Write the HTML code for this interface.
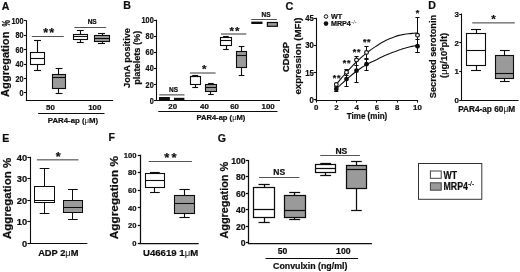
<!DOCTYPE html>
<html lang="en"><head><meta charset="utf-8"><title>Figure</title>
<style>html,body{margin:0;padding:0;background:#fff;overflow:hidden;}svg{display:block;}text{font-family:"Liberation Sans", Arial, sans-serif;stroke:#111;stroke-width:0.22px;}</style>
</head><body>
<svg width="520" height="272" viewBox="0 0 520 272">
<rect width="520" height="272" fill="#fff"/>
<defs><filter id="soft" x="0" y="0" width="520" height="272" filterUnits="userSpaceOnUse"><feGaussianBlur stdDeviation="0.4"/></filter></defs>
<g filter="url(#soft)">
<rect width="520" height="272" fill="#fff"/>
<text x="1.80" y="9.50" font-size="10.6" text-anchor="start" font-weight="bold" fill="#111">A</text>
<text x="9.50" y="96.90" font-size="11.1" text-anchor="start" font-weight="bold" fill="#111" transform="rotate(-90 9.50 96.90)">Aggregation</text>
<text font-size="11.1" font-weight="bold" fill="#111" text-anchor="start" transform="translate(9.5 26.6) rotate(-90) scale(0.66 1)">%</text>
<line x1="26.50" y1="20.30" x2="26.50" y2="100.50" stroke="#111" stroke-width="1.1"/>
<line x1="23.90" y1="92.50" x2="26.30" y2="92.50" stroke="#111" stroke-width="1.1"/>
<text x="0.00" y="0.00" font-size="8.7" text-anchor="end" font-weight="bold" fill="#111" transform="translate(23.60 96.01) scale(0.83 1)">0</text>
<line x1="23.90" y1="78.50" x2="26.30" y2="78.50" stroke="#111" stroke-width="1.1"/>
<text x="0.00" y="0.00" font-size="8.7" text-anchor="end" font-weight="bold" fill="#111" transform="translate(23.60 81.59) scale(0.83 1)">20</text>
<line x1="23.90" y1="64.50" x2="26.30" y2="64.50" stroke="#111" stroke-width="1.1"/>
<text x="0.00" y="0.00" font-size="8.7" text-anchor="end" font-weight="bold" fill="#111" transform="translate(23.60 67.17) scale(0.83 1)">40</text>
<line x1="23.90" y1="49.50" x2="26.30" y2="49.50" stroke="#111" stroke-width="1.1"/>
<text x="0.00" y="0.00" font-size="8.7" text-anchor="end" font-weight="bold" fill="#111" transform="translate(23.60 52.75) scale(0.83 1)">60</text>
<line x1="23.90" y1="35.50" x2="26.30" y2="35.50" stroke="#111" stroke-width="1.1"/>
<text x="0.00" y="0.00" font-size="8.7" text-anchor="end" font-weight="bold" fill="#111" transform="translate(23.60 38.33) scale(0.83 1)">80</text>
<line x1="23.90" y1="20.50" x2="26.30" y2="20.50" stroke="#111" stroke-width="1.1"/>
<text x="0.00" y="0.00" font-size="8.7" text-anchor="end" font-weight="bold" fill="#111" transform="translate(23.60 23.91) scale(0.83 1)">100</text>
<line x1="25.80" y1="100.50" x2="113.10" y2="100.50" stroke="#111" stroke-width="1.1"/>
<text x="50.40" y="109.90" font-size="7.9" text-anchor="middle" font-weight="bold" fill="#111">50</text>
<text x="94.80" y="109.90" font-size="7.9" text-anchor="middle" font-weight="bold" fill="#111">100</text>
<line x1="38.10" y1="113.50" x2="104.50" y2="113.50" stroke="#111" stroke-width="1.1"/>
<text x="73.00" y="123.00" font-size="7.8" text-anchor="middle" font-weight="bold" fill="#111">PAR4-ap (<tspan font-weight="normal" stroke="none">μ</tspan>M)</text>
<line x1="37.50" y1="40.10" x2="37.50" y2="52.50" stroke="#111" stroke-width="1.1"/>
<line x1="37.50" y1="64.50" x2="37.50" y2="70.90" stroke="#111" stroke-width="1.1"/>
<line x1="34.00" y1="40.50" x2="41.00" y2="40.50" stroke="#111" stroke-width="1.1"/>
<line x1="34.00" y1="70.50" x2="41.00" y2="70.50" stroke="#111" stroke-width="1.1"/>
<rect x="30.50" y="52.50" width="14.00" height="12.00" fill="#fff" stroke="#111" stroke-width="1.1"/>
<line x1="30.50" y1="58.50" x2="44.50" y2="58.50" stroke="#111" stroke-width="1.1"/>
<line x1="58.50" y1="68.40" x2="58.50" y2="74.50" stroke="#111" stroke-width="1.1"/>
<line x1="58.50" y1="88.50" x2="58.50" y2="93.00" stroke="#111" stroke-width="1.1"/>
<line x1="55.60" y1="68.50" x2="62.50" y2="68.50" stroke="#111" stroke-width="1.1"/>
<line x1="55.60" y1="93.50" x2="62.50" y2="93.50" stroke="#111" stroke-width="1.1"/>
<rect x="52.50" y="74.50" width="13.00" height="14.00" fill="#9a9a9a" stroke="#111" stroke-width="1.1"/>
<line x1="52.50" y1="77.50" x2="65.50" y2="77.50" stroke="#111" stroke-width="1.1"/>
<line x1="80.50" y1="30.60" x2="80.50" y2="34.50" stroke="#111" stroke-width="1.1"/>
<line x1="80.50" y1="39.50" x2="80.50" y2="42.75" stroke="#111" stroke-width="1.1"/>
<line x1="76.90" y1="30.50" x2="83.75" y2="30.50" stroke="#111" stroke-width="1.1"/>
<line x1="76.90" y1="42.50" x2="83.75" y2="42.50" stroke="#111" stroke-width="1.1"/>
<rect x="73.50" y="34.50" width="14.00" height="5.00" fill="#fff" stroke="#111" stroke-width="1.1"/>
<line x1="73.50" y1="36.50" x2="87.50" y2="36.50" stroke="#111" stroke-width="1.1"/>
<line x1="102.50" y1="33.75" x2="102.50" y2="35.50" stroke="#111" stroke-width="1.1"/>
<line x1="102.50" y1="41.50" x2="102.50" y2="43.60" stroke="#111" stroke-width="1.1"/>
<line x1="98.00" y1="33.50" x2="105.00" y2="33.50" stroke="#111" stroke-width="1.1"/>
<line x1="98.00" y1="43.50" x2="105.00" y2="43.50" stroke="#111" stroke-width="1.1"/>
<rect x="94.50" y="35.50" width="15.00" height="6.00" fill="#9a9a9a" stroke="#111" stroke-width="1.1"/>
<line x1="94.50" y1="38.50" x2="109.50" y2="38.50" stroke="#111" stroke-width="1.1"/>
<line x1="31.90" y1="36.50" x2="63.75" y2="36.50" stroke="#555" stroke-width="1"/>
<text x="49.35" y="37.15" font-size="12.5" text-anchor="middle" font-weight="bold" fill="#111" letter-spacing="1.2">**</text>
<line x1="74.40" y1="27.50" x2="106.25" y2="27.50" stroke="#555" stroke-width="1"/>
<text x="92.20" y="24.00" font-size="6.5" text-anchor="middle" font-weight="bold" fill="#111">NS</text>
<text x="123.20" y="9.00" font-size="10.6" text-anchor="start" font-weight="bold" fill="#111">B</text>
<text x="129.70" y="58.00" font-size="9.2" text-anchor="middle" font-weight="bold" fill="#111" transform="rotate(-90 129.70 58.00)">JonA positive</text>
<text x="139.80" y="57.75" font-size="9.2" text-anchor="middle" font-weight="bold" fill="#111" transform="rotate(-90 139.80 57.75)">platelets (%)</text>
<line x1="156.50" y1="19.70" x2="156.50" y2="101.00" stroke="#111" stroke-width="1.1"/>
<line x1="154.00" y1="100.50" x2="156.40" y2="100.50" stroke="#111" stroke-width="1.1"/>
<text x="0.00" y="0.00" font-size="8.3" text-anchor="end" font-weight="bold" fill="#111" transform="translate(153.70 103.67) scale(0.88 1)">0</text>
<line x1="154.00" y1="84.50" x2="156.40" y2="84.50" stroke="#111" stroke-width="1.1"/>
<text x="0.00" y="0.00" font-size="8.3" text-anchor="end" font-weight="bold" fill="#111" transform="translate(153.70 87.57) scale(0.88 1)">20</text>
<line x1="154.00" y1="68.50" x2="156.40" y2="68.50" stroke="#111" stroke-width="1.1"/>
<text x="0.00" y="0.00" font-size="8.3" text-anchor="end" font-weight="bold" fill="#111" transform="translate(153.70 71.47) scale(0.88 1)">40</text>
<line x1="154.00" y1="52.50" x2="156.40" y2="52.50" stroke="#111" stroke-width="1.1"/>
<text x="0.00" y="0.00" font-size="8.3" text-anchor="end" font-weight="bold" fill="#111" transform="translate(153.70 55.37) scale(0.88 1)">60</text>
<line x1="154.00" y1="36.50" x2="156.40" y2="36.50" stroke="#111" stroke-width="1.1"/>
<text x="0.00" y="0.00" font-size="8.3" text-anchor="end" font-weight="bold" fill="#111" transform="translate(153.70 39.27) scale(0.88 1)">80</text>
<line x1="154.00" y1="20.50" x2="156.40" y2="20.50" stroke="#111" stroke-width="1.1"/>
<text x="0.00" y="0.00" font-size="8.3" text-anchor="end" font-weight="bold" fill="#111" transform="translate(153.70 23.17) scale(0.88 1)">100</text>
<line x1="155.90" y1="100.50" x2="280.00" y2="100.50" stroke="#111" stroke-width="1.1"/>
<text x="172.70" y="109.10" font-size="7.9" text-anchor="middle" font-weight="bold" fill="#111">20</text>
<text x="204.40" y="109.10" font-size="7.9" text-anchor="middle" font-weight="bold" fill="#111">40</text>
<text x="234.60" y="109.10" font-size="7.9" text-anchor="middle" font-weight="bold" fill="#111">60</text>
<text x="268.10" y="109.20" font-size="7.9" text-anchor="middle" font-weight="bold" fill="#111">100</text>
<line x1="158.25" y1="111.50" x2="277.50" y2="111.50" stroke="#111" stroke-width="1.1"/>
<text x="220.90" y="120.10" font-size="7.6" text-anchor="middle" font-weight="bold" fill="#111">PAR4-ap (<tspan font-weight="normal" stroke="none">μ</tspan>M)</text>
<rect x="159" y="97" width="10.9" height="3" fill="#111"/>
<rect x="174" y="97.8" width="10.4" height="2.2" fill="#111"/>
<line x1="159.25" y1="94.90" x2="184.50" y2="94.90" stroke="#222" stroke-width="0.9"/>
<text x="173.50" y="92.40" font-size="6.5" text-anchor="middle" font-weight="bold" fill="#111">NS</text>
<line x1="195.50" y1="75.20" x2="195.50" y2="76.50" stroke="#111" stroke-width="1.1"/>
<line x1="195.50" y1="84.50" x2="195.50" y2="87.40" stroke="#111" stroke-width="1.1"/>
<line x1="192.25" y1="75.50" x2="198.10" y2="75.50" stroke="#111" stroke-width="1.1"/>
<line x1="192.25" y1="87.50" x2="198.10" y2="87.50" stroke="#111" stroke-width="1.1"/>
<rect x="190.50" y="76.50" width="10.00" height="8.00" fill="#fff" stroke="#111" stroke-width="1.1"/>
<line x1="190.50" y1="76.50" x2="200.50" y2="76.50" stroke="#111" stroke-width="1.1"/>
<line x1="210.50" y1="83.00" x2="210.50" y2="84.50" stroke="#111" stroke-width="1.1"/>
<line x1="210.50" y1="91.50" x2="210.50" y2="94.75" stroke="#111" stroke-width="1.1"/>
<line x1="208.10" y1="83.50" x2="213.75" y2="83.50" stroke="#111" stroke-width="1.1"/>
<line x1="208.10" y1="94.50" x2="213.75" y2="94.50" stroke="#111" stroke-width="1.1"/>
<rect x="205.50" y="84.50" width="11.00" height="7.00" fill="#9a9a9a" stroke="#111" stroke-width="1.1"/>
<line x1="205.50" y1="87.50" x2="216.50" y2="87.50" stroke="#111" stroke-width="1.1"/>
<line x1="190.00" y1="73.00" x2="215.60" y2="73.00" stroke="#222" stroke-width="0.9"/>
<text x="204.20" y="73.25" font-size="11.5" text-anchor="middle" font-weight="bold" fill="#111">*</text>
<line x1="226.50" y1="36.10" x2="226.50" y2="37.50" stroke="#111" stroke-width="1.1"/>
<line x1="226.50" y1="45.50" x2="226.50" y2="49.75" stroke="#111" stroke-width="1.1"/>
<line x1="223.10" y1="36.50" x2="228.75" y2="36.50" stroke="#111" stroke-width="1.1"/>
<line x1="223.10" y1="49.50" x2="228.75" y2="49.50" stroke="#111" stroke-width="1.1"/>
<rect x="220.50" y="37.50" width="11.00" height="8.00" fill="#fff" stroke="#111" stroke-width="1.1"/>
<line x1="220.50" y1="40.50" x2="231.50" y2="40.50" stroke="#111" stroke-width="1.1"/>
<line x1="241.50" y1="46.40" x2="241.50" y2="51.50" stroke="#111" stroke-width="1.1"/>
<line x1="241.50" y1="67.50" x2="241.50" y2="75.50" stroke="#111" stroke-width="1.1"/>
<line x1="238.75" y1="46.50" x2="244.40" y2="46.50" stroke="#111" stroke-width="1.1"/>
<line x1="238.75" y1="75.50" x2="244.40" y2="75.50" stroke="#111" stroke-width="1.1"/>
<rect x="236.50" y="51.50" width="10.00" height="16.00" fill="#9a9a9a" stroke="#111" stroke-width="1.1"/>
<line x1="236.50" y1="55.50" x2="246.50" y2="55.50" stroke="#111" stroke-width="1.1"/>
<line x1="221.00" y1="34.00" x2="246.25" y2="34.00" stroke="#222" stroke-width="0.9"/>
<text x="235.10" y="34.75" font-size="11.5" text-anchor="middle" font-weight="bold" fill="#111" letter-spacing="1.2">**</text>
<rect x="251.25" y="21.6" width="11.25" height="2.4" fill="#111"/>
<rect x="267.4" y="22.5" width="10" height="3.8" fill="#9a9a9a" stroke="#111" stroke-width="1.2"/>
<line x1="251.25" y1="19.50" x2="276.90" y2="19.50" stroke="#555" stroke-width="1"/>
<text x="266.00" y="17.00" font-size="6.5" text-anchor="middle" font-weight="bold" fill="#111">NS</text>
<text x="285.60" y="9.60" font-size="10.799999999999999" text-anchor="start" font-weight="bold" fill="#111">C</text>
<text x="289.50" y="56.90" font-size="9.3" text-anchor="middle" font-weight="bold" fill="#111" transform="rotate(-90 289.50 56.90)">CD62P</text>
<text x="300.75" y="56.10" font-size="9.7" text-anchor="middle" font-weight="bold" fill="#111" transform="rotate(-90 300.75 56.10)">expression (MFI)</text>
<line x1="316.50" y1="17.80" x2="316.50" y2="100.60" stroke="#111" stroke-width="1.1"/>
<line x1="313.60" y1="99.50" x2="316.00" y2="99.50" stroke="#111" stroke-width="1.1"/>
<text x="0.00" y="0.00" font-size="8.4" text-anchor="end" font-weight="bold" fill="#111" transform="translate(313.90 102.71) scale(0.92 1)">0</text>
<line x1="313.60" y1="72.50" x2="316.00" y2="72.50" stroke="#111" stroke-width="1.1"/>
<text x="0.00" y="0.00" font-size="8.4" text-anchor="end" font-weight="bold" fill="#111" transform="translate(313.90 75.57) scale(0.92 1)">15</text>
<line x1="313.60" y1="45.50" x2="316.00" y2="45.50" stroke="#111" stroke-width="1.1"/>
<text x="0.00" y="0.00" font-size="8.4" text-anchor="end" font-weight="bold" fill="#111" transform="translate(313.90 48.44) scale(0.92 1)">30</text>
<line x1="313.60" y1="18.50" x2="316.00" y2="18.50" stroke="#111" stroke-width="1.1"/>
<text x="0.00" y="0.00" font-size="8.4" text-anchor="end" font-weight="bold" fill="#111" transform="translate(313.90 21.30) scale(0.92 1)">45</text>
<line x1="315.50" y1="100.50" x2="417.90" y2="100.50" stroke="#111" stroke-width="1.1"/>
<line x1="316.50" y1="100.00" x2="316.50" y2="102.60" stroke="#111" stroke-width="1.1"/>
<text x="316.10" y="109.70" font-size="7.9" text-anchor="middle" font-weight="bold" fill="#111">0</text>
<line x1="336.50" y1="100.00" x2="336.50" y2="102.60" stroke="#111" stroke-width="1.1"/>
<text x="336.36" y="109.70" font-size="7.9" text-anchor="middle" font-weight="bold" fill="#111">2</text>
<line x1="356.50" y1="100.00" x2="356.50" y2="102.60" stroke="#111" stroke-width="1.1"/>
<text x="356.62" y="109.70" font-size="7.9" text-anchor="middle" font-weight="bold" fill="#111">4</text>
<line x1="376.50" y1="100.00" x2="376.50" y2="102.60" stroke="#111" stroke-width="1.1"/>
<text x="376.88" y="109.70" font-size="7.9" text-anchor="middle" font-weight="bold" fill="#111">6</text>
<line x1="397.50" y1="100.00" x2="397.50" y2="102.60" stroke="#111" stroke-width="1.1"/>
<text x="397.14" y="109.70" font-size="7.9" text-anchor="middle" font-weight="bold" fill="#111">8</text>
<line x1="417.50" y1="100.00" x2="417.50" y2="102.60" stroke="#111" stroke-width="1.1"/>
<text x="417.40" y="109.70" font-size="7.9" text-anchor="middle" font-weight="bold" fill="#111">10</text>
<text x="0.00" y="0.00" font-size="8.7" text-anchor="middle" font-weight="bold" fill="#111" transform="translate(367.00 118.90) scale(0.925 1)">Time (min)</text>
<circle cx="326" cy="16.5" r="1.8" fill="#fff" stroke="#111" stroke-width="1"/>
<text x="330.90" y="19.00" font-size="7.2" text-anchor="start" font-weight="bold" fill="#111">WT</text>
<circle cx="326" cy="23.6" r="2.3" fill="#111"/>
<text x="330.90" y="26.10" font-size="7.2" text-anchor="start" font-weight="bold" fill="#111">MRP4<tspan font-size="5.6" dx="0.4" dy="-2.6" font-weight="normal" stroke="none" fill="#333">-/-</tspan></text>
<path d="M336.3,84.5 L338.1,82.2 L340.0,79.9 L341.8,77.7 L343.7,75.5 L345.5,73.4 L347.4,71.3 L349.2,69.3 L351.1,67.3 L352.9,65.4 L354.8,63.5 L356.6,61.7 L358.4,60.0 L360.3,58.3 L362.1,56.6 L364.0,55.1 L365.8,53.5 L367.7,52.1 L369.5,50.7 L371.4,49.4 L373.2,48.1 L375.1,46.9 L376.9,45.7 L378.7,44.5 L380.6,43.3 L382.4,42.2 L384.3,41.2 L386.1,40.2 L388.0,39.4 L389.8,38.6 L391.7,37.9 L393.5,37.2 L395.4,36.5 L397.2,35.9 L399.0,35.4 L400.9,35.0 L402.7,34.6 L404.6,34.3 L406.4,34.0 L408.3,33.8 L410.1,33.6 L412.0,33.4 L413.8,33.2 L415.7,33.1 L417.5,33.0" fill="none" stroke="#111" stroke-width="1.1"/>
<path d="M336.3,88.9 L338.1,87.1 L340.0,85.4 L341.8,83.7 L343.7,82.0 L345.5,80.4 L347.4,78.7 L349.2,77.1 L351.1,75.5 L352.9,74.0 L354.8,72.5 L356.6,71.1 L358.4,69.8 L360.3,68.5 L362.1,67.3 L364.0,66.1 L365.8,65.0 L367.7,64.0 L369.5,63.0 L371.4,62.1 L373.2,61.3 L375.1,60.4 L376.9,59.5 L378.7,58.5 L380.6,57.6 L382.4,56.7 L384.3,55.8 L386.1,55.0 L388.0,54.2 L389.8,53.5 L391.7,52.7 L393.5,52.0 L395.4,51.4 L397.2,50.7 L399.0,50.1 L400.9,49.5 L402.7,48.8 L404.6,48.3 L406.4,47.7 L408.3,47.2 L410.1,46.8 L412.0,46.4 L413.8,46.0 L415.7,45.6 L417.5,45.3" fill="none" stroke="#111" stroke-width="1.1"/>
<line x1="346.50" y1="69.50" x2="346.50" y2="75.00" stroke="#111" stroke-width="1"/>
<line x1="344.40" y1="69.50" x2="348.60" y2="69.50" stroke="#111" stroke-width="1"/>
<line x1="344.40" y1="75.50" x2="348.60" y2="75.50" stroke="#111" stroke-width="1"/>
<line x1="356.50" y1="56.90" x2="356.50" y2="65.60" stroke="#111" stroke-width="1"/>
<line x1="354.40" y1="56.50" x2="358.60" y2="56.50" stroke="#111" stroke-width="1"/>
<line x1="354.40" y1="65.50" x2="358.60" y2="65.50" stroke="#111" stroke-width="1"/>
<line x1="366.50" y1="46.90" x2="366.50" y2="59.40" stroke="#111" stroke-width="1"/>
<line x1="364.40" y1="46.50" x2="368.60" y2="46.50" stroke="#111" stroke-width="1"/>
<line x1="364.40" y1="59.50" x2="368.60" y2="59.50" stroke="#111" stroke-width="1"/>
<line x1="417.50" y1="17.50" x2="417.50" y2="52.50" stroke="#111" stroke-width="1"/>
<line x1="415.40" y1="17.50" x2="419.60" y2="17.50" stroke="#111" stroke-width="1"/>
<line x1="415.40" y1="52.50" x2="419.60" y2="52.50" stroke="#111" stroke-width="1"/>
<line x1="336.50" y1="86.50" x2="336.50" y2="91.40" stroke="#111" stroke-width="1"/>
<line x1="334.20" y1="86.50" x2="338.40" y2="86.50" stroke="#111" stroke-width="1"/>
<line x1="334.20" y1="91.50" x2="338.40" y2="91.50" stroke="#111" stroke-width="1"/>
<line x1="346.50" y1="73.00" x2="346.50" y2="86.40" stroke="#111" stroke-width="1"/>
<line x1="344.40" y1="73.50" x2="348.60" y2="73.50" stroke="#111" stroke-width="1"/>
<line x1="344.40" y1="86.50" x2="348.60" y2="86.50" stroke="#111" stroke-width="1"/>
<line x1="356.50" y1="60.00" x2="356.50" y2="82.25" stroke="#111" stroke-width="1"/>
<line x1="354.40" y1="60.50" x2="358.60" y2="60.50" stroke="#111" stroke-width="1"/>
<line x1="354.40" y1="82.50" x2="358.60" y2="82.50" stroke="#111" stroke-width="1"/>
<line x1="366.50" y1="58.50" x2="366.50" y2="70.80" stroke="#111" stroke-width="1"/>
<line x1="364.40" y1="58.50" x2="368.60" y2="58.50" stroke="#111" stroke-width="1"/>
<line x1="364.40" y1="70.50" x2="368.60" y2="70.50" stroke="#111" stroke-width="1"/>
<line x1="417.50" y1="39.00" x2="417.50" y2="52.25" stroke="#111" stroke-width="1"/>
<line x1="415.40" y1="39.50" x2="419.60" y2="39.50" stroke="#111" stroke-width="1"/>
<line x1="415.40" y1="52.50" x2="419.60" y2="52.50" stroke="#111" stroke-width="1"/>
<circle cx="336.3" cy="84.5" r="1.9" fill="#fff" stroke="#111" stroke-width="1.1"/>
<circle cx="346.5" cy="72.25" r="1.9" fill="#fff" stroke="#111" stroke-width="1.1"/>
<circle cx="356.5" cy="60" r="1.9" fill="#fff" stroke="#111" stroke-width="1.1"/>
<circle cx="366.5" cy="52.5" r="1.9" fill="#fff" stroke="#111" stroke-width="1.1"/>
<circle cx="417.5" cy="35.25" r="1.9" fill="#fff" stroke="#111" stroke-width="1.1"/>
<circle cx="336.3" cy="88.9" r="2.4" fill="#111"/>
<circle cx="346.5" cy="79.1" r="2.4" fill="#111"/>
<circle cx="356.5" cy="70.7" r="2.4" fill="#111"/>
<circle cx="366.5" cy="64.2" r="2.4" fill="#111"/>
<circle cx="417.5" cy="46.25" r="2.4" fill="#111"/>
<text x="336.90" y="80.50" font-size="9" text-anchor="middle" font-weight="bold" fill="#111" letter-spacing="0.6">**</text>
<text x="346.90" y="65.75" font-size="9" text-anchor="middle" font-weight="bold" fill="#111" letter-spacing="0.6">**</text>
<text x="356.90" y="54.50" font-size="9" text-anchor="middle" font-weight="bold" fill="#111" letter-spacing="0.6">**</text>
<text x="367.00" y="45.00" font-size="9" text-anchor="middle" font-weight="bold" fill="#111" letter-spacing="0.6">**</text>
<text x="417.50" y="15.70" font-size="9" text-anchor="middle" font-weight="bold" fill="#111">*</text>
<text x="428.30" y="9.00" font-size="10.6" text-anchor="start" font-weight="bold" fill="#111">D</text>
<text x="435.50" y="56.50" font-size="9.2" text-anchor="middle" font-weight="bold" fill="#111" transform="rotate(-90 435.50 56.50)">Secreted serotonin</text>
<text x="447.00" y="55.40" font-size="9.4" text-anchor="middle" font-weight="bold" fill="#111" transform="rotate(-90 447.00 55.40)">(<tspan font-weight="normal" stroke="none">μ</tspan>g/10<tspan font-size="5.8" dy="-3.2">9</tspan><tspan dy="3.2">plt)</tspan></text>
<line x1="461.50" y1="13.50" x2="461.50" y2="100.80" stroke="#111" stroke-width="1.1"/>
<line x1="459.20" y1="100.50" x2="461.60" y2="100.50" stroke="#111" stroke-width="1.1"/>
<text x="458.90" y="103.08" font-size="7.9" text-anchor="end" font-weight="bold" fill="#111">0</text>
<line x1="459.20" y1="71.50" x2="461.60" y2="71.50" stroke="#111" stroke-width="1.1"/>
<text x="458.90" y="74.33" font-size="7.9" text-anchor="end" font-weight="bold" fill="#111">1</text>
<line x1="459.20" y1="42.50" x2="461.60" y2="42.50" stroke="#111" stroke-width="1.1"/>
<text x="458.90" y="45.58" font-size="7.9" text-anchor="end" font-weight="bold" fill="#111">2</text>
<line x1="459.20" y1="14.50" x2="461.60" y2="14.50" stroke="#111" stroke-width="1.1"/>
<text x="458.90" y="16.83" font-size="7.9" text-anchor="end" font-weight="bold" fill="#111">3</text>
<line x1="461.10" y1="100.50" x2="518.60" y2="100.50" stroke="#111" stroke-width="1.1"/>
<text x="486.60" y="112.00" font-size="8.25" text-anchor="middle" font-weight="bold" fill="#111">PAR4-ap 60<tspan font-weight="normal" stroke="none">μ</tspan>M</text>
<line x1="476.50" y1="29.40" x2="476.50" y2="33.50" stroke="#111" stroke-width="1.1"/>
<line x1="476.50" y1="65.50" x2="476.50" y2="70.25" stroke="#111" stroke-width="1.1"/>
<line x1="471.00" y1="29.50" x2="481.00" y2="29.50" stroke="#111" stroke-width="1.1"/>
<line x1="471.00" y1="70.50" x2="481.00" y2="70.50" stroke="#111" stroke-width="1.1"/>
<rect x="466.50" y="33.50" width="19.00" height="32.00" fill="#fff" stroke="#111" stroke-width="1.1"/>
<line x1="466.50" y1="50.50" x2="485.50" y2="50.50" stroke="#111" stroke-width="1.1"/>
<line x1="504.50" y1="50.50" x2="504.50" y2="55.50" stroke="#111" stroke-width="1.1"/>
<line x1="504.50" y1="78.50" x2="504.50" y2="81.60" stroke="#111" stroke-width="1.1"/>
<line x1="500.00" y1="50.50" x2="509.75" y2="50.50" stroke="#111" stroke-width="1.1"/>
<line x1="500.00" y1="81.50" x2="509.75" y2="81.50" stroke="#111" stroke-width="1.1"/>
<rect x="495.50" y="55.50" width="18.00" height="23.00" fill="#9a9a9a" stroke="#111" stroke-width="1.1"/>
<line x1="495.50" y1="73.50" x2="513.50" y2="73.50" stroke="#111" stroke-width="1.1"/>
<line x1="472.25" y1="22.90" x2="514.75" y2="22.90" stroke="#222" stroke-width="0.9"/>
<text x="493.60" y="23.25" font-size="11.5" text-anchor="middle" font-weight="bold" fill="#111">*</text>
<text x="2.20" y="141.50" font-size="10.6" text-anchor="start" font-weight="bold" fill="#111">E</text>
<text x="10.70" y="198.40" font-size="11.5" text-anchor="middle" font-weight="bold" fill="#111" transform="rotate(-90 10.70 198.40)">Aggregation %</text>
<line x1="30.50" y1="156.70" x2="30.50" y2="244.00" stroke="#111" stroke-width="1.1"/>
<line x1="27.40" y1="243.50" x2="30.10" y2="243.50" stroke="#111" stroke-width="1.1"/>
<text x="27.10" y="246.73" font-size="9.3" text-anchor="end" font-weight="bold" fill="#111">0</text>
<line x1="27.40" y1="221.50" x2="30.10" y2="221.50" stroke="#111" stroke-width="1.1"/>
<text x="27.10" y="225.18" font-size="9.3" text-anchor="end" font-weight="bold" fill="#111">10</text>
<line x1="27.40" y1="200.50" x2="30.10" y2="200.50" stroke="#111" stroke-width="1.1"/>
<text x="27.10" y="203.63" font-size="9.3" text-anchor="end" font-weight="bold" fill="#111">20</text>
<line x1="27.40" y1="178.50" x2="30.10" y2="178.50" stroke="#111" stroke-width="1.1"/>
<text x="27.10" y="182.08" font-size="9.3" text-anchor="end" font-weight="bold" fill="#111">30</text>
<line x1="27.40" y1="157.50" x2="30.10" y2="157.50" stroke="#111" stroke-width="1.1"/>
<text x="27.10" y="160.53" font-size="9.3" text-anchor="end" font-weight="bold" fill="#111">40</text>
<line x1="29.50" y1="243.50" x2="87.40" y2="243.50" stroke="#111" stroke-width="1.1"/>
<text x="58.30" y="255.70" font-size="9.3" text-anchor="middle" font-weight="bold" fill="#111">ADP 2<tspan font-weight="normal" stroke="none">μ</tspan>M</text>
<line x1="44.50" y1="168.00" x2="44.50" y2="186.50" stroke="#111" stroke-width="1.0"/>
<line x1="44.50" y1="202.50" x2="44.50" y2="213.20" stroke="#111" stroke-width="1.0"/>
<line x1="39.70" y1="168.50" x2="49.40" y2="168.50" stroke="#111" stroke-width="1.0"/>
<line x1="39.70" y1="213.50" x2="49.40" y2="213.50" stroke="#111" stroke-width="1.0"/>
<rect x="34.50" y="186.50" width="20.00" height="16.00" fill="#fff" stroke="#111" stroke-width="1.0"/>
<line x1="34.50" y1="200.50" x2="54.50" y2="200.50" stroke="#111" stroke-width="1.0"/>
<line x1="72.50" y1="189.25" x2="72.50" y2="200.50" stroke="#111" stroke-width="1.0"/>
<line x1="72.50" y1="212.50" x2="72.50" y2="219.60" stroke="#111" stroke-width="1.0"/>
<line x1="68.10" y1="189.50" x2="77.75" y2="189.50" stroke="#111" stroke-width="1.0"/>
<line x1="68.10" y1="219.50" x2="77.75" y2="219.50" stroke="#111" stroke-width="1.0"/>
<rect x="63.50" y="200.50" width="19.00" height="12.00" fill="#9a9a9a" stroke="#111" stroke-width="1.0"/>
<line x1="63.50" y1="207.50" x2="82.50" y2="207.50" stroke="#111" stroke-width="1.0"/>
<line x1="36.90" y1="159.85" x2="78.50" y2="159.85" stroke="#222" stroke-width="0.9"/>
<text x="58.30" y="160.55" font-size="12.5" text-anchor="middle" font-weight="bold" fill="#111">*</text>
<text x="108.50" y="141.30" font-size="10.6" text-anchor="start" font-weight="bold" fill="#111">F</text>
<text x="117.60" y="197.55" font-size="11.8" text-anchor="middle" font-weight="bold" fill="#111" transform="rotate(-90 117.60 197.55)">Aggregation %</text>
<line x1="140.50" y1="154.65" x2="140.50" y2="243.80" stroke="#111" stroke-width="1.25"/>
<line x1="137.80" y1="243.50" x2="140.20" y2="243.50" stroke="#111" stroke-width="1.25"/>
<text x="136.40" y="245.92" font-size="7.6" text-anchor="end" font-weight="bold" fill="#111">0</text>
<line x1="137.80" y1="225.50" x2="140.20" y2="225.50" stroke="#111" stroke-width="1.25"/>
<text x="136.40" y="228.31" font-size="7.6" text-anchor="end" font-weight="bold" fill="#111">20</text>
<line x1="137.80" y1="207.50" x2="140.20" y2="207.50" stroke="#111" stroke-width="1.25"/>
<text x="136.40" y="210.70" font-size="7.6" text-anchor="end" font-weight="bold" fill="#111">40</text>
<line x1="137.80" y1="190.50" x2="140.20" y2="190.50" stroke="#111" stroke-width="1.25"/>
<text x="136.40" y="193.09" font-size="7.6" text-anchor="end" font-weight="bold" fill="#111">60</text>
<line x1="137.80" y1="172.50" x2="140.20" y2="172.50" stroke="#111" stroke-width="1.25"/>
<text x="136.40" y="175.48" font-size="7.6" text-anchor="end" font-weight="bold" fill="#111">80</text>
<line x1="137.80" y1="155.50" x2="140.20" y2="155.50" stroke="#111" stroke-width="1.25"/>
<text x="136.40" y="157.87" font-size="7.6" text-anchor="end" font-weight="bold" fill="#111">100</text>
<line x1="139.60" y1="243.50" x2="198.75" y2="243.50" stroke="#111" stroke-width="1.25"/>
<text x="170.60" y="255.50" font-size="9.6" text-anchor="middle" font-weight="bold" fill="#111">U46619 1<tspan font-weight="normal" stroke="none">μ</tspan>M</text>
<line x1="154.50" y1="172.80" x2="154.50" y2="173.50" stroke="#111" stroke-width="1.1"/>
<line x1="154.50" y1="187.50" x2="154.50" y2="192.00" stroke="#111" stroke-width="1.1"/>
<line x1="150.00" y1="172.50" x2="159.75" y2="172.50" stroke="#111" stroke-width="1.1"/>
<line x1="150.00" y1="192.50" x2="159.75" y2="192.50" stroke="#111" stroke-width="1.1"/>
<rect x="145.50" y="173.50" width="19.00" height="14.00" fill="#fff" stroke="#111" stroke-width="1.1"/>
<line x1="145.50" y1="180.50" x2="164.50" y2="180.50" stroke="#111" stroke-width="1.1"/>
<line x1="184.50" y1="189.90" x2="184.50" y2="195.50" stroke="#111" stroke-width="1.1"/>
<line x1="184.50" y1="213.50" x2="184.50" y2="217.50" stroke="#111" stroke-width="1.1"/>
<line x1="179.40" y1="189.50" x2="189.75" y2="189.50" stroke="#111" stroke-width="1.1"/>
<line x1="179.40" y1="217.50" x2="189.75" y2="217.50" stroke="#111" stroke-width="1.1"/>
<rect x="174.50" y="195.50" width="20.00" height="18.00" fill="#9a9a9a" stroke="#111" stroke-width="1.1"/>
<line x1="174.50" y1="203.50" x2="194.50" y2="203.50" stroke="#111" stroke-width="1.1"/>
<line x1="148.75" y1="161.50" x2="191.90" y2="161.50" stroke="#555" stroke-width="1"/>
<text x="171.40" y="161.50" font-size="13" text-anchor="middle" font-weight="bold" fill="#111" letter-spacing="2.2">**</text>
<text x="217.80" y="141.50" font-size="10.6" text-anchor="start" font-weight="bold" fill="#111">G</text>
<text x="228.00" y="200.20" font-size="10.9" text-anchor="middle" font-weight="bold" fill="#111" transform="rotate(-90 228.00 200.20)">Aggregation %</text>
<line x1="248.50" y1="160.00" x2="248.50" y2="243.80" stroke="#111" stroke-width="1.25"/>
<line x1="246.00" y1="242.50" x2="248.60" y2="242.50" stroke="#111" stroke-width="1.25"/>
<text x="245.70" y="246.01" font-size="8.7" text-anchor="end" font-weight="bold" fill="#111">0</text>
<line x1="246.00" y1="226.50" x2="248.60" y2="226.50" stroke="#111" stroke-width="1.25"/>
<text x="245.70" y="229.53" font-size="8.7" text-anchor="end" font-weight="bold" fill="#111">20</text>
<line x1="246.00" y1="209.50" x2="248.60" y2="209.50" stroke="#111" stroke-width="1.25"/>
<text x="245.70" y="213.05" font-size="8.7" text-anchor="end" font-weight="bold" fill="#111">40</text>
<line x1="246.00" y1="193.50" x2="248.60" y2="193.50" stroke="#111" stroke-width="1.25"/>
<text x="245.70" y="196.57" font-size="8.7" text-anchor="end" font-weight="bold" fill="#111">60</text>
<line x1="246.00" y1="176.50" x2="248.60" y2="176.50" stroke="#111" stroke-width="1.25"/>
<text x="245.70" y="180.09" font-size="8.7" text-anchor="end" font-weight="bold" fill="#111">80</text>
<line x1="246.00" y1="160.50" x2="248.60" y2="160.50" stroke="#111" stroke-width="1.25"/>
<text x="245.70" y="163.61" font-size="8.7" text-anchor="end" font-weight="bold" fill="#111">100</text>
<line x1="248.00" y1="243.50" x2="371.90" y2="243.50" stroke="#111" stroke-width="1.25"/>
<text x="282.50" y="253.60" font-size="8.6" text-anchor="middle" font-weight="bold" fill="#111">50</text>
<text x="343.30" y="253.60" font-size="8.7" text-anchor="middle" font-weight="bold" fill="#111">100</text>
<line x1="265.50" y1="258.50" x2="358.10" y2="258.50" stroke="#111" stroke-width="1.1"/>
<text x="310.20" y="269.00" font-size="8.8" text-anchor="middle" font-weight="bold" fill="#111">Convulxin (ng/ml)</text>
<line x1="264.50" y1="184.90" x2="264.50" y2="187.50" stroke="#111" stroke-width="1.25"/>
<line x1="264.50" y1="217.50" x2="264.50" y2="222.40" stroke="#111" stroke-width="1.25"/>
<line x1="258.50" y1="184.50" x2="269.75" y2="184.50" stroke="#111" stroke-width="1.25"/>
<line x1="258.50" y1="222.50" x2="269.75" y2="222.50" stroke="#111" stroke-width="1.25"/>
<rect x="253.50" y="187.50" width="21.00" height="30.00" fill="#fff" stroke="#111" stroke-width="1.25"/>
<line x1="253.50" y1="209.50" x2="274.50" y2="209.50" stroke="#111" stroke-width="1.25"/>
<line x1="294.50" y1="192.90" x2="294.50" y2="195.50" stroke="#111" stroke-width="1.25"/>
<line x1="294.50" y1="217.50" x2="294.50" y2="219.00" stroke="#111" stroke-width="1.25"/>
<line x1="289.20" y1="192.50" x2="300.20" y2="192.50" stroke="#111" stroke-width="1.25"/>
<line x1="289.20" y1="219.50" x2="300.20" y2="219.50" stroke="#111" stroke-width="1.25"/>
<rect x="284.50" y="195.50" width="21.00" height="22.00" fill="#9a9a9a" stroke="#111" stroke-width="1.25"/>
<line x1="284.50" y1="210.50" x2="305.50" y2="210.50" stroke="#111" stroke-width="1.25"/>
<line x1="325.50" y1="163.20" x2="325.50" y2="164.50" stroke="#111" stroke-width="1.25"/>
<line x1="325.50" y1="172.50" x2="325.50" y2="175.00" stroke="#111" stroke-width="1.25"/>
<line x1="320.25" y1="163.50" x2="331.10" y2="163.50" stroke="#111" stroke-width="1.25"/>
<line x1="320.25" y1="175.50" x2="331.10" y2="175.50" stroke="#111" stroke-width="1.25"/>
<rect x="315.50" y="164.50" width="20.00" height="8.00" fill="#fff" stroke="#111" stroke-width="1.25"/>
<line x1="315.50" y1="168.50" x2="335.50" y2="168.50" stroke="#111" stroke-width="1.25"/>
<line x1="356.50" y1="161.50" x2="356.50" y2="165.50" stroke="#111" stroke-width="1.25"/>
<line x1="356.50" y1="188.50" x2="356.50" y2="210.10" stroke="#111" stroke-width="1.25"/>
<line x1="351.10" y1="161.50" x2="361.75" y2="161.50" stroke="#111" stroke-width="1.25"/>
<line x1="351.10" y1="210.50" x2="361.75" y2="210.50" stroke="#111" stroke-width="1.25"/>
<rect x="346.50" y="165.50" width="20.00" height="23.00" fill="#9a9a9a" stroke="#111" stroke-width="1.25"/>
<line x1="346.50" y1="169.50" x2="366.50" y2="169.50" stroke="#111" stroke-width="1.25"/>
<line x1="259.00" y1="177.50" x2="299.40" y2="177.50" stroke="#555" stroke-width="1"/>
<text x="279.20" y="175.10" font-size="8.5" text-anchor="middle" font-weight="bold" fill="#111">NS</text>
<line x1="320.25" y1="155.50" x2="359.90" y2="155.50" stroke="#555" stroke-width="1"/>
<text x="341.30" y="153.50" font-size="8.5" text-anchor="middle" font-weight="bold" fill="#111">NS</text>
<rect x="418.5" y="163.5" width="63.3" height="35.8" fill="#fff" stroke="#333" stroke-width="1"/>
<rect x="430.4" y="171" width="10.8" height="7.3" fill="#fff" stroke="#444" stroke-width="1"/>
<rect x="430.4" y="182.8" width="10.8" height="7.4" fill="#9a9a9a" stroke="#444" stroke-width="1"/>
<text x="0.00" y="0.00" font-size="10" text-anchor="start" font-weight="bold" fill="#111" transform="translate(443.50 178.60) scale(0.87 1)">WT</text>
<text x="0.00" y="0.00" font-size="10" text-anchor="start" font-weight="bold" fill="#111" transform="translate(443.50 190.40) scale(0.88 1)">MRP4<tspan font-size="7.5" dy="-4.3" font-weight="normal" fill="#222">-/-</tspan></text>
</g>
</svg></body></html>
